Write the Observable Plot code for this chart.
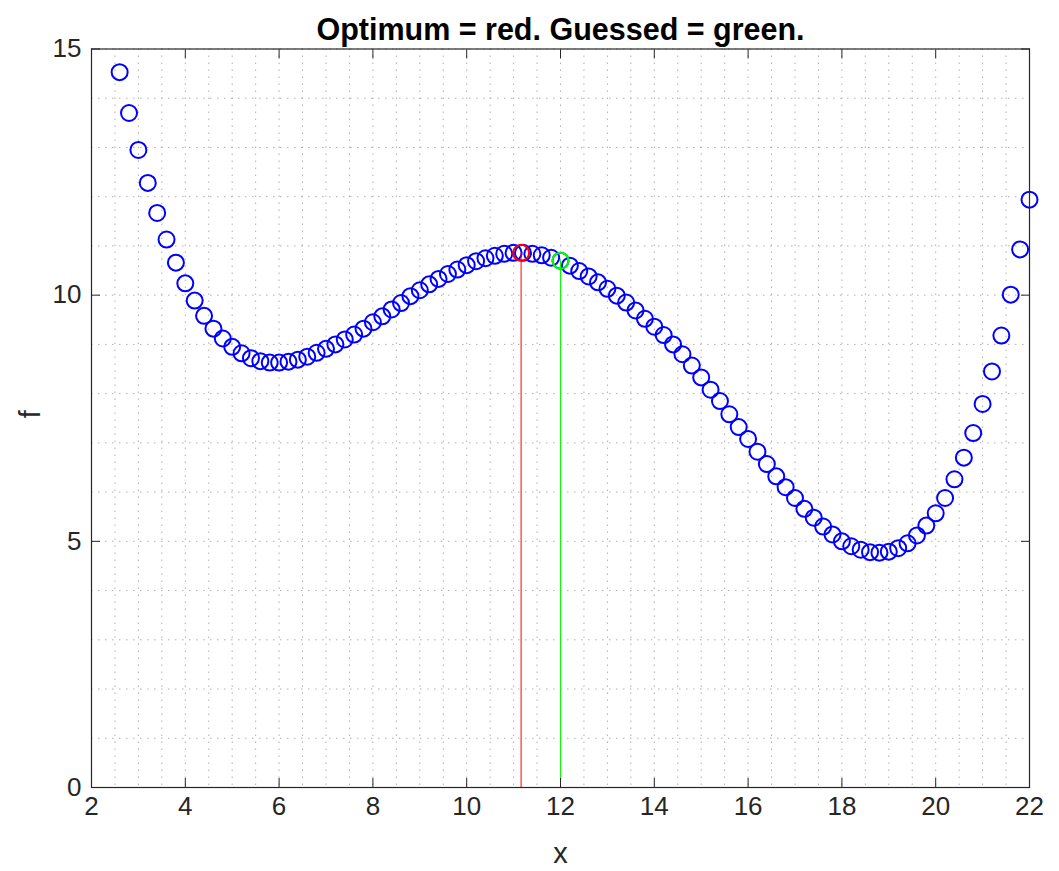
<!DOCTYPE html>
<html><head><meta charset="utf-8">
<script src="https://cdn.jsdelivr.net/npm/d3@7"></script>
<script src="https://cdn.jsdelivr.net/npm/@observablehq/plot@0.6"></script>
<style>body{margin:0;background:#fff;} svg{display:block}</style>
</head><body><div id="chart"></div>
<script>
const xs = [2.6,2.8,3.0,3.2,3.4,3.6,3.8,4.0,4.2,4.4,4.6,4.8,5.0,5.2,5.4,5.6,5.8,6.0,6.2,6.4,6.6,6.8,
  7.0,7.2,7.4,7.6,7.8,8.0,8.2,8.4,8.6,8.8,9.0,9.2,9.4,9.6,9.8,10.0,10.2,10.4,10.6,10.8,11.0,11.2,11.4,11.6,11.8,12.0,
  12.2,12.4,12.6,12.8,13.0,13.2,13.4,13.6,13.8,14.0,14.2,14.4,14.6,14.8,15.0,15.2,15.4,15.6,15.8,16.0,16.2,16.4,16.6,16.8,
  17.0,17.2,17.4,17.6,17.8,18.0,18.2,18.4,18.6,18.8,19.0,19.2,19.4,19.6,19.8,20.0,20.2,20.4,20.6,20.8,21.0,21.2,21.4,21.6,21.8,22.0];
const fs = [14.53,13.70,12.95,12.28,11.67,11.13,10.66,10.24,9.89,9.58,9.32,9.12,8.95,8.82,8.72,8.66,8.63,8.63,8.65,8.69,8.75,8.83,
  8.91,9.00,9.10,9.20,9.32,9.45,9.57,9.71,9.84,9.98,10.10,10.22,10.33,10.43,10.52,10.61,10.69,10.75,10.80,10.84,10.86,10.86,10.84,10.81,10.76,10.70,
  10.60,10.49,10.38,10.26,10.13,9.99,9.85,9.69,9.52,9.36,9.19,9.00,8.80,8.57,8.33,8.08,7.85,7.58,7.32,7.08,6.82,6.57,6.32,6.10,
  5.88,5.66,5.48,5.30,5.14,5.00,4.90,4.83,4.78,4.77,4.79,4.86,4.96,5.12,5.32,5.57,5.88,6.26,6.70,7.20,7.79,8.45,9.18,10.01,10.93,11.94];
const optimumX = [11.16];
const optimumF = [10.86];
const guessedX = [12.0];
const guessedF = [10.70];
const xTicks = [2,4,6,8,10,12,14,16,18,20,22];
const yTicks = [0,5,10,15];
const xGrid = [2,2.5,3,3.5,4,4.5,5,5.5,6,6.5,7,7.5,8,8.5,9,9.5,10,10.5,11,11.5,12,12.5,13,13.5,14,14.5,15,15.5,16,16.5,17,17.5,18,18.5,19,19.5,20,20.5,21,21.5,22];
const yGrid = [0,1,2,3,4,5,6,7,8,9,10,11,12,13,14,15];
const titleText = "Optimum = red. Guessed = green.";
const xLabel = "x";
const yLabel = "f";

const points = xs.map((x, i) => ({x, f: fs[i]}));
const optimum = optimumX.map((x, i) => ({x, f: optimumF[i]}));
const guessed = guessedX.map((x, i) => ({x, f: guessedF[i]}));
const ink = "#262626";
const gridStyle = {stroke: "#b0b0b0", strokeOpacity: 1, strokeDasharray: "1.5,5.5", strokeWidth: 1};

const chart = Plot.plot({
  width: 1059, height: 871,
  marginLeft: 91, marginRight: 30, marginTop: 48.5, marginBottom: 84,
  style: {fontFamily: "'Liberation Sans', Arial, Helvetica, sans-serif", background: "#fff", color: ink},
  x: {domain: [2, 22]},
  y: {domain: [0, 15]},
  marks: [
    Plot.gridX({ticks: xGrid, ...gridStyle}),
    Plot.gridY({ticks: yGrid, ...gridStyle}),
    Plot.dot(points, {x: "x", y: "f", r: 8, stroke: "#0000ff", strokeWidth: 2}),
    Plot.ruleX(optimum, {x: "x", y1: 0, y2: "f", stroke: "#ff0000", strokeWidth: 1}),
    Plot.ruleX(guessed, {x: "x", y1: 0, y2: "f", stroke: "#00ff00", strokeWidth: 1}),
    Plot.dot(optimum, {x: "x", y: "f", r: 8, stroke: "#ff0000", strokeWidth: 2}),
    Plot.dot(guessed, {x: "x", y: "f", r: 8, stroke: "#00ff00", strokeWidth: 2}),
    Plot.frame({stroke: ink, strokeWidth: 1.2}),
    Plot.axisX({anchor: "bottom", ticks: xTicks, tickSize: -9, fill: "none", stroke: ink, label: null}),
    Plot.axisX({anchor: "top", ticks: xTicks, tickSize: -9, fill: "none", stroke: ink, label: null}),
    Plot.axisY({anchor: "left", ticks: yTicks, tickSize: -9, fill: "none", stroke: ink, label: null}),
    Plot.axisY({anchor: "right", ticks: yTicks, tickSize: -9, fill: "none", stroke: ink, label: null}),
    Plot.axisX({anchor: "bottom", ticks: xTicks, tickSize: 0, tickPadding: 9, fontSize: 26, fill: ink, label: null}),
    Plot.axisY({anchor: "left", ticks: yTicks, tickSize: 0, tickPadding: 10, fontSize: 26, fill: ink, label: null}),
    Plot.text([titleText], {frameAnchor: "top", dy: -31, fontSize: 30.5, fontWeight: "bold", fill: "#000"}),
    Plot.text([xLabel], {frameAnchor: "bottom", dy: 75, fontSize: 29, fill: ink}),
    Plot.text([yLabel], {frameAnchor: "left", dx: -61, rotate: -90, fontSize: 29, fill: ink})
  ]
});
document.getElementById("chart").appendChild(chart);
</script>
</body></html>
